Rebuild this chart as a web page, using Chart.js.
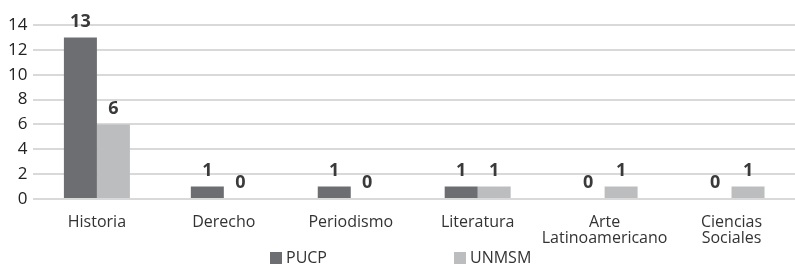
<!DOCTYPE html>
<html>
<head>
<meta charset="utf-8">
<script src="https://cdn.jsdelivr.net/npm/chart.js@4"></script>
<style>
  html, body { margin: 0; padding: 0; background: #fff; }
  #wrap { width: 795px; height: 267px; }
</style>
</head>
<body>
<div id="wrap"><canvas id="chart"></canvas></div>
<script>
// categorias
var categories = ["Historia", "Derecho", "Periodismo", "Literatura", ["Arte", "Latinoamericano"], ["Ciencias", "Sociales"]];
// valores por universidad
var pucp = [13, 1, 1, 1, 0, 0];
var unmsm = [6, 0, 0, 1, 1, 1];

// etiquetas de valor encima de cada barra
var valueLabels = {
    id: 'valueLabels',
    afterDatasetsDraw: function (chart) {
        var ctx = chart.ctx;
        ctx.save();
        ctx.font = "bold 18px 'Open Sans'";
        ctx.fillStyle = "#3a3a3a";
        ctx.textAlign = "center";
        ctx.textBaseline = "bottom";
        chart.data.datasets.forEach(function (ds, i) {
            chart.getDatasetMeta(i).data.forEach(function (bar, j) {
                ctx.fillText(ds.data[j], bar.x, bar.y - 7);
            });
        });
        ctx.restore();
    }
};

// leyenda abajo, con separacion ancha entre series
var bottomLegend = {
    id: 'bottomLegend',
    afterDraw: function (chart) {
        var ctx = chart.ctx;
        var starts = [270, 454];
        ctx.save();
        ctx.font = "16px 'Open Sans'";
        ctx.textBaseline = "middle";
        chart.data.datasets.forEach(function (ds, i) {
            var x = starts[i], y = 258;
            ctx.fillStyle = ds.backgroundColor;
            ctx.fillRect(x, y - 6, 12, 12);
            ctx.fillStyle = "#333";
            ctx.fillText(ds.label, x + 16, y);
        });
        ctx.restore();
    }
};

new Chart(document.getElementById("chart"), {
    type: 'bar',
    data: {
        labels: categories,
        datasets: [
            { label: "PUCP", data: pucp, backgroundColor: "#6d6e71" },
            { label: "UNMSM", data: unmsm, backgroundColor: "#bcbdbf" }
        ]
    },
    options: {
        responsive: true,
        maintainAspectRatio: false,
        animation: false,
        layout: { padding: { top: 25, right: 0, left: 2, bottom: 14 } },
        categoryPercentage: 0.52,
        barPercentage: 1.0,
        scales: {
            x: {
                grid: { display: false },
                border: { display: false },
                ticks: { color: "#333", font: { family: "'Open Sans'", size: 16, lineHeight: 1.0 }, maxRotation: 0, autoSkip: false, padding: 7 }
            },
            y: {
                min: 0,
                max: 14,
                ticks: { stepSize: 2, autoSkip: false, color: "#222", font: { family: "'Open Sans'", size: 17 }, padding: 6 },
                grid: { color: "#d9d9d9", lineWidth: 2, drawTicks: false },
                border: { display: false }
            }
        },
        plugins: {
            legend: { display: false },
            tooltip: { enabled: false }
        }
    },
    plugins: [valueLabels, bottomLegend]
});
</script>
</body>
</html>
